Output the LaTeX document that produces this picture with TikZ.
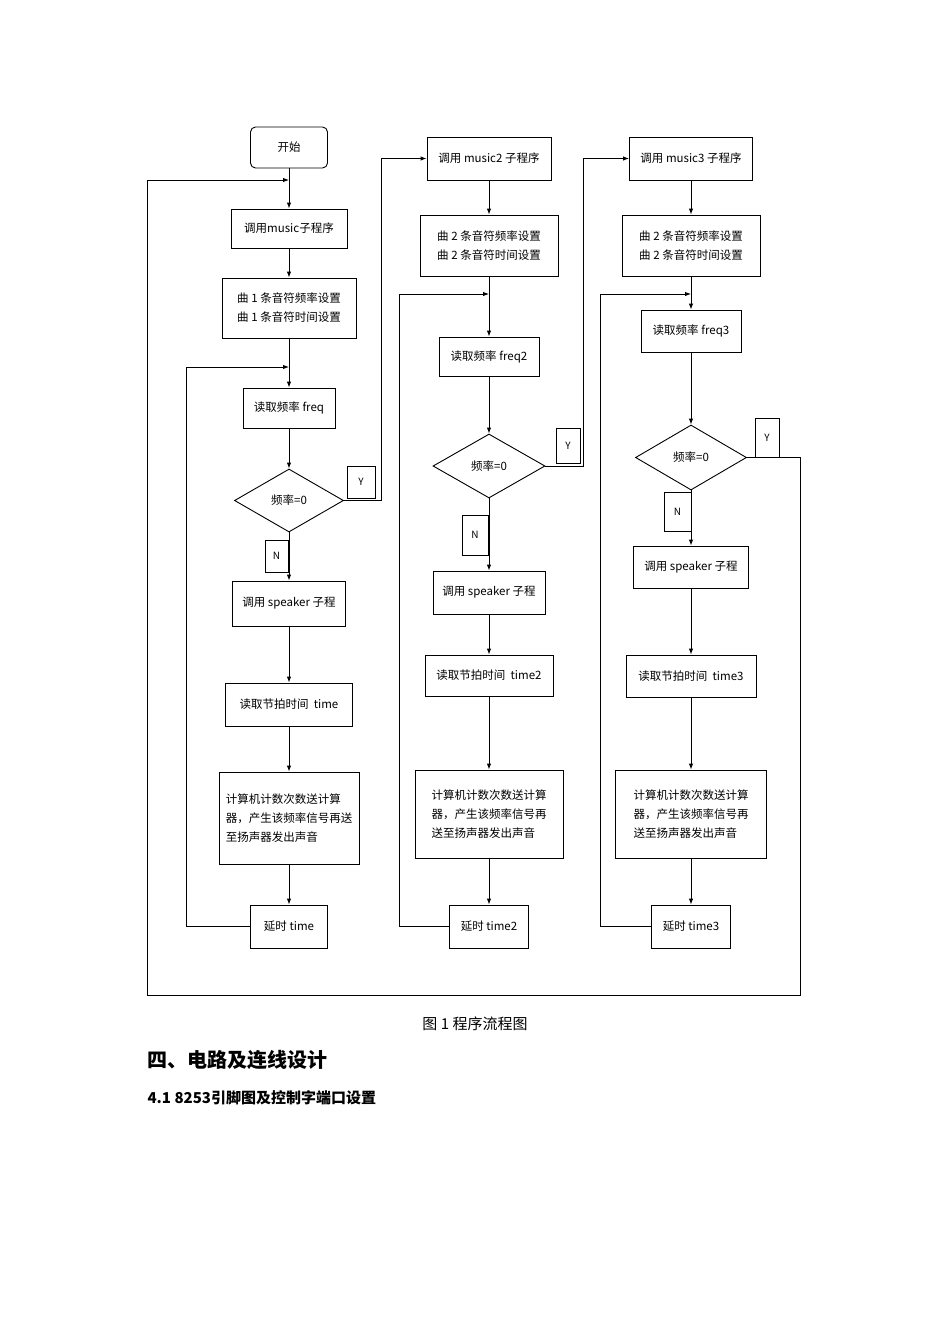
\documentclass[tikz,border=0pt]{standalone}
\usepackage{fontspec}
\setmainfont{Noto Sans CJK SC}
\usetikzlibrary{arrows.meta,shapes.geometric}
\begin{document}
\begin{tikzpicture}[x=1pt,y=-1pt,
  bx/.style={draw,line width=0.9pt,inner sep=1pt,font=\fontsize{11.5}{19}\selectfont,align=left},
  lab/.style={draw,line width=0.9pt,inner sep=0pt,font=\fontsize{10}{12}\selectfont},
  dm/.style={draw,diamond,line width=0.9pt,inner sep=0pt,font=\fontsize{11.5}{14}\selectfont},
  ar/.style={line width=0.9pt,-{Latex[length=6pt,width=4.5pt]}},
  ln/.style={line width=0.9pt}]
\useasboundingbox (0,0) rectangle (950,1344);
% column 1
\node[bx,rounded corners=5pt,minimum width=77,minimum height=41] (st) at (289,147.5) {开始};
\node[bx,minimum width=116,minimum height=39] (m1) at (289,228.5) {调用music子程序};
\node[bx,minimum width=134,minimum height=60] (s1) at (289,308) {曲 1 条音符频率设置\\曲 1 条音符时间设置};
\node[bx,minimum width=92,minimum height=40] (f1) at (289,408) {读取频率 freq};
\node[dm,minimum width=109,minimum height=63] (d1) at (289,500.5) {频率=0};
\node[lab,minimum width=28,minimum height=32] (y1) at (361,482) {Y};
\node[lab,minimum width=23,minimum height=32] (n1) at (276.5,556) {N};
\node[bx,minimum width=113,minimum height=45] (sp1) at (289,603.5) {调用 speaker 子程};
\node[bx,minimum width=127,minimum height=43] (t1) at (289,704.5) {读取节拍时间\ \ time};
\node[bx,minimum width=140,minimum height=92] (c1) at (289,818) {计算机计数次数送计算\\器，产生该频率信号再送\\至扬声器发出声音};
\node[bx,minimum width=77,minimum height=43] (dl1) at (289,926.5) {延时 time};
% column 2
\node[bx,minimum width=124,minimum height=43] (mu2) at (489,158.5) {调用 music2 子程序};
\node[bx,minimum width=138,minimum height=61] (s2) at (489,245.5) {曲 2 条音符频率设置\\曲 2 条音符时间设置};
\node[bx,minimum width=100,minimum height=39] (f2) at (489,356.5) {读取频率 freq2};
\node[dm,minimum width=112,minimum height=64] (d2) at (489,466) {频率=0};
\node[lab,minimum width=24,minimum height=35] (y2) at (568,445.5) {Y};
\node[lab,minimum width=26,minimum height=40] (n2) at (475,535) {N};
\node[bx,minimum width=112,minimum height=43] (sp2) at (489,592.5) {调用 speaker 子程};
\node[bx,minimum width=128,minimum height=41] (t2) at (489,675.5) {读取节拍时间\ \ time2};
\node[bx,minimum width=148,minimum height=88] (c2) at (489,814) {计算机计数次数送计算\\器，产生该频率信号再\\送至扬声器发出声音};
\node[bx,minimum width=79,minimum height=43] (dl2) at (489,926.5) {延时 time2};
% column 3
\node[bx,minimum width=123,minimum height=43] (mu3) at (691,158.5) {调用 music3 子程序};
\node[bx,minimum width=138,minimum height=61] (s3) at (691,245.5) {曲 2 条音符频率设置\\曲 2 条音符时间设置};
\node[bx,minimum width=100,minimum height=42] (f3) at (691,331) {读取频率 freq3};
\node[dm,minimum width=111,minimum height=65] (d3) at (691,457.5) {频率=0};
\node[lab,minimum width=24,minimum height=39] (y3) at (767,437.5) {Y};
\node[lab,minimum width=27,minimum height=39] (n3) at (677.5,511.5) {N};
\node[bx,minimum width=115,minimum height=42] (sp3) at (691,567) {调用 speaker 子程};
\node[bx,minimum width=130,minimum height=42] (t3) at (691,676) {读取节拍时间\ \ time3};
\node[bx,minimum width=151,minimum height=88] (c3) at (691,814) {计算机计数次数送计算\\器，产生该频率信号再\\送至扬声器发出声音};
\node[bx,minimum width=79,minimum height=43] (dl3) at (691,926.5) {延时 time3};
% junctions
\coordinate (L0) at (289,180);
\coordinate (J1) at (289,367);
\coordinate (J2) at (489,294);
\coordinate (J3) at (691,294);
% vertical flows
\draw[ar] (st) -- (m1);
\draw[ar] (m1) -- (s1);
\draw[ar] (s1) -- (f1);
\draw[ar] (f1) -- (d1);
\draw[ar] (d1) -- (sp1);
\draw[ar] (sp1) -- (t1);
\draw[ar] (t1) -- (c1);
\draw[ar] (c1) -- (dl1);
\draw[ar] (mu2) -- (s2);
\draw[ar] (s2) -- (f2);
\draw[ar] (f2) -- (d2);
\draw[ar] (d2) -- (sp2);
\draw[ar] (sp2) -- (t2);
\draw[ar] (t2) -- (c2);
\draw[ar] (c2) -- (dl2);
\draw[ar] (mu3) -- (s3);
\draw[ar] (s3) -- (f3);
\draw[ar] (f3) -- (d3);
\draw[ar] (d3) -- (sp3);
\draw[ar] (sp3) -- (t3);
\draw[ar] (t3) -- (c3);
\draw[ar] (c3) -- (dl3);
% loops
\draw[ar] (dl1.west) -- (186,926.5) -- (186,367) -- (J1);
\draw[ar] (dl2.west) -- (399,926.5) -- (399,294) -- (J2);
\draw[ar] (dl3.west) -- (600,926.5) -- (600,294) -- (J3);
\draw[ar] (d1.east) -- (381,500.5) |- (mu2.west);
\draw[ar] (d2.east) -- (583,466) |- (mu3.west);
\draw[ar] (d3.east) -- (800,457.5) -- (800,995) -- (147,995) -- (147,180) -- (L0);
% text
\node[font=\fontsize{15}{18}\selectfont] (cap) at (475,1024) {图 1 程序流程图};
\node[anchor=west,font=\fontsize{20}{24}\selectfont\bfseries] (h1) at (144,1060) {四、电路及连线设计};
\node[anchor=west,font=\fontsize{15}{18}\selectfont\bfseries] (h2) at (144,1098) {4.1 8253引脚图及控制字端口设置};
\end{tikzpicture}
\end{document}
